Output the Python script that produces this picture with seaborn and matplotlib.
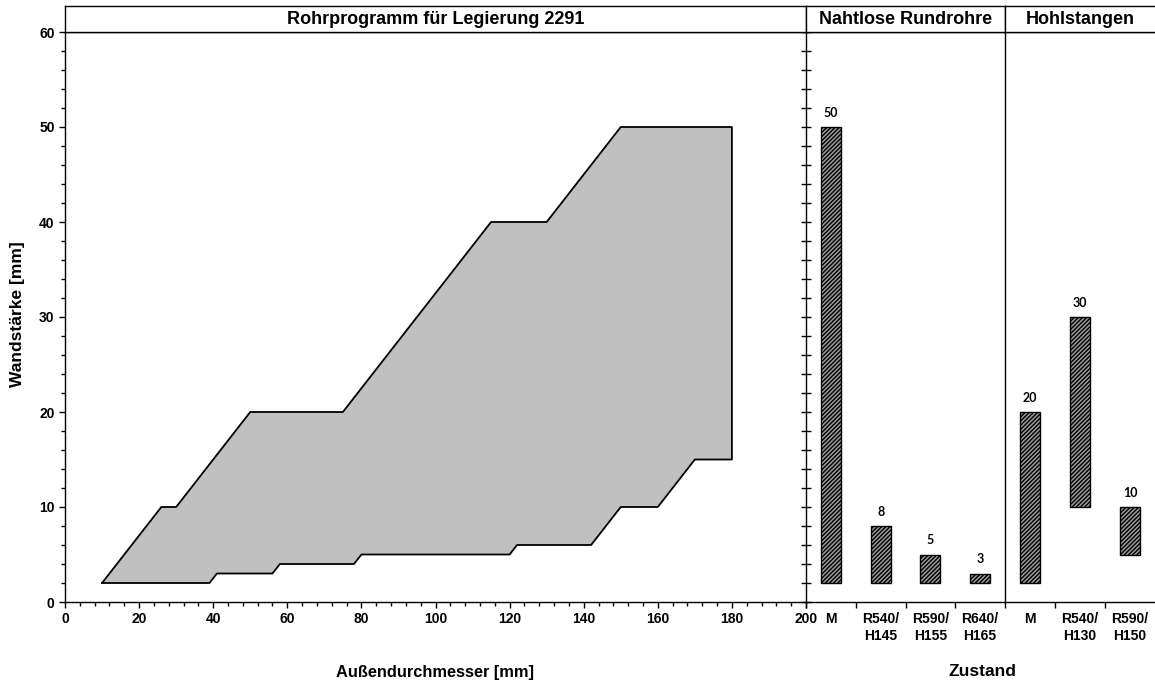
import pandas as pd
import matplotlib
matplotlib.use("Agg")
import matplotlib.pyplot as plt
from matplotlib.ticker import MultipleLocator, FixedLocator
import seaborn as sns

# Rohrprogramm: Umriss Außendurchmesser / Wandstärke
upper_d = [10, 26, 30, 50, 75, 115, 130, 150, 180, 180]
upper_s = [2, 10, 10, 20, 20, 40, 40, 50, 50, 15]
lower_d = [170, 160, 150, 142, 122, 120, 80, 78, 58, 56, 41, 39, 10]
lower_s = [15, 10, 10, 6, 6, 5, 5, 4, 4, 3, 3, 2, 2]

# Nahtlose Rundrohre
nahtlos_zustand = ["M", "R540/\nH145", "R590/\nH155", "R640/\nH165"]
nahtlos_von = [2, 2, 2, 2]
nahtlos_bis = [50, 8, 5, 3]

# Hohlstangen
hohl_zustand = ["M", "R540/\nH130", "R590/\nH150"]
hohl_von = [2, 10, 5]
hohl_bis = [20, 30, 10]

sns.set_style("ticks")
plt.rcParams['font.family'] = ['Liberation Sans', 'DejaVu Sans']
plt.rcParams['font.weight'] = 'bold'
plt.rcParams['text.color'] = 'black'
plt.rcParams['xtick.color'] = 'black'
plt.rcParams['ytick.color'] = 'black'
plt.rcParams['axes.labelcolor'] = 'black'
plt.rcParams['hatch.linewidth'] = 1.0

W, H = 1155, 681
fig = plt.figure(figsize=(11.55, 6.81), dpi=100)


def box(x0, x1, y0, y1):
    return [x0 / W, 1 - y1 / H, (x1 - x0) / W, (y1 - y0) / H]


ax = fig.add_axes(box(65, 806, 32, 602))
ax1 = fig.add_axes(box(806, 1005, 32, 602))
ax2 = fig.add_axes(box(1005, 1155, 32, 602))

# Hauptdiagramm
umriss = pd.DataFrame({"d": upper_d + lower_d, "s": upper_s + lower_s})
ax.fill(umriss["d"].values, umriss["s"].values, facecolor="#c0c0c0", edgecolor="none")
sns.lineplot(data=umriss, x="d", y="s", sort=False, estimator=None, color="black",
             lw=1.3, ax=ax)
ax.set_xlim(0, 200)
ax.set_ylim(0, 60)
ax.xaxis.set_major_locator(MultipleLocator(20))
ax.xaxis.set_minor_locator(MultipleLocator(4))
ax.yaxis.set_major_locator(MultipleLocator(10))
ax.yaxis.set_minor_locator(MultipleLocator(2))
ax.tick_params(which="major", direction="out", length=4, width=1, labelsize=10)
ax.tick_params(which="minor", direction="out", length=3, width=1)
ax.set_xlabel("")
ax.set_ylabel("")
for sp in ["left", "bottom", "top"]:
    ax.spines[sp].set_visible(True)
    ax.spines[sp].set_color("black")
    ax.spines[sp].set_linewidth(1)
ax.spines["right"].set_visible(False)


def panel(a, zustand, von, bis, last=False):
    n = len(zustand)
    x = list(range(n))
    hoehe = [b - v for v, b in zip(von, bis)]
    a.bar(x, hoehe, bottom=von, width=0.4, facecolor="#9a9a9a", edgecolor="black",
          hatch="////////", lw=1.0)
    for i, b in enumerate(bis):
        a.text(i, b + 1.5, str(b), ha="center", va="center", fontsize=9,
               family=["Lato", "DejaVu Sans"], fontweight="bold")
    a.set_xlim(-0.5, n - 0.5)
    a.set_ylim(0, 60)
    a.xaxis.set_major_locator(FixedLocator([i - 0.5 for i in range(n)]))
    a.xaxis.set_minor_locator(FixedLocator(x))
    a.set_xticklabels([])
    a.set_xticklabels(zustand, minor=True)
    for t in a.get_xticklabels(minor=True):
        t.set_linespacing(1.3)
    a.tick_params(axis="x", which="major", direction="out", length=4, width=1)
    a.tick_params(axis="x", which="minor", length=0, pad=7, labelsize=10)
    if last:
        a.set_yticks([])
    else:
        a.yaxis.set_major_locator(MultipleLocator(2))
        a.tick_params(axis="y", which="major", direction="inout", length=7, width=1,
                      labelleft=False)
    for sp in ["left", "bottom", "top"]:
        a.spines[sp].set_visible(True)
        a.spines[sp].set_color("black")
        a.spines[sp].set_linewidth(1)
    a.spines["right"].set_visible(False)


panel(ax1, nahtlos_zustand, nahtlos_von, nahtlos_bis)
panel(ax2, hohl_zustand, hohl_von, hohl_bis, last=True)

# Kopfzeilen
titel = [("Rohrprogramm für Legierung 2291", 65, 806),
         ("Nahtlose Rundrohre", 806, 1005),
         ("Hohlstangen", 1005, 1155)]
for txt, x0, x1 in titel:
    h = fig.add_axes(box(x0, x1, 6, 32))
    h.set_xticks([])
    h.set_yticks([])
    for sp in h.spines.values():
        sp.set_visible(True)
        sp.set_color("black")
        sp.set_linewidth(1)
    if x1 == 1155:
        h.spines["right"].set_visible(False)
    h.text(0.5, 0.5, txt, ha="center", va="center", fontsize=13, transform=h.transAxes)

fig.text(435 / W, 1 - 672 / H, "Außendurchmesser [mm]", ha="center", va="center", fontsize=11.8)
fig.text(982 / W, 1 - 672 / H, "Zustand", ha="center", va="center", fontsize=12.5)
fig.text(18 / W, 1 - 314 / H, "Wandstärke [mm]", ha="center", va="center", rotation=90, fontsize=12.5)

fig.savefig("out.png", dpi=100)
